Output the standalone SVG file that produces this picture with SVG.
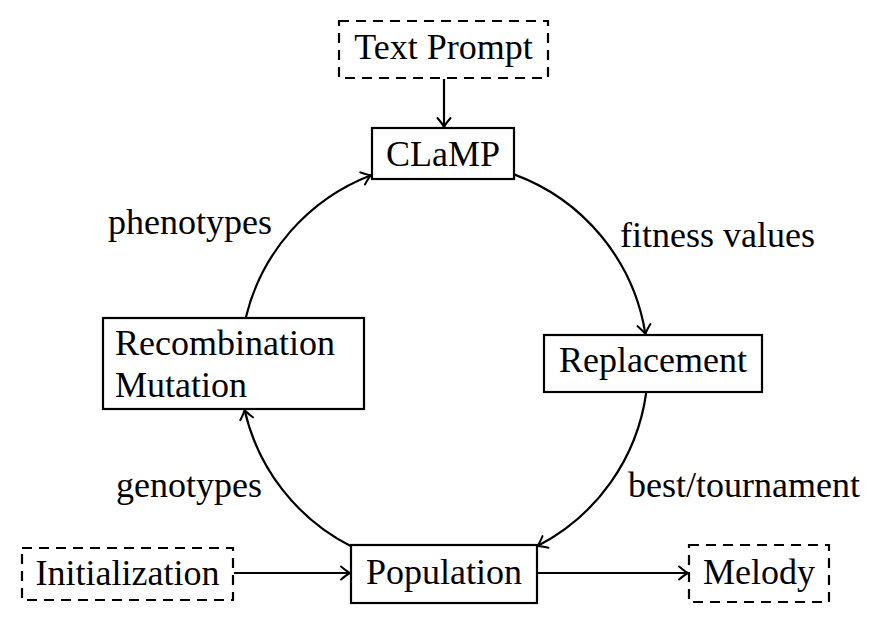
<svg xmlns="http://www.w3.org/2000/svg" width="877" height="618" viewBox="0 0 877 618">
<style>
  .box { fill: #ffffff; stroke: #000000; stroke-width: 2.2; }
  .dbox { fill: #ffffff; stroke: #000000; stroke-width: 2.2; stroke-dasharray: 10 7; }
  .lbl { font-family: "Liberation Serif", "Times New Roman", serif; font-size: 36px; fill: #000000; }
  .mid { text-anchor: middle; }
  .edge { fill: none; stroke: #000000; stroke-width: 2.2; marker-end: url(#arr); }
</style>
<defs>
  <marker id="arr" markerUnits="userSpaceOnUse" viewBox="-12 -8 14 16" refX="0" refY="0" markerWidth="14" markerHeight="16" orient="auto" overflow="visible">
    <path d="M -9,-6.5 Q -3,-1.5 0,0 Q -3,1.5 -9,6.5" fill="none" stroke="#000000" stroke-width="2" stroke-linecap="round"/>
  </marker>
</defs>
<rect width="877" height="618" fill="#ffffff"/>
<g id="connectors">
  <line class="edge" x1="444" y1="79" x2="444" y2="127"/>
  <path class="edge" d="M 245.7,318 A 204 204 0 0 1 371,175.2"/>
  <path class="edge" d="M 514,174.4 A 204 204 0 0 1 645.4,334"/>
  <path class="edge" d="M 646.3,392 A 204 204 0 0 1 537.5,546"/>
  <path class="edge" d="M 351.5,546.5 A 204 204 0 0 1 244.6,410"/>
  <line class="edge" x1="234" y1="573" x2="350" y2="573"/>
  <line class="edge" x1="537" y1="573" x2="688" y2="573"/>
  <text class="lbl" x="108" y="234">phenotypes</text>
  <text class="lbl" x="620" y="247">fitness values</text>
  <text class="lbl" x="116" y="497">genotypes</text>
  <text class="lbl" x="628" y="497">best/tournament</text>
</g>
<g id="text-prompt">
  <rect class="dbox" x="339" y="21" width="209" height="57"/>
  <text class="lbl mid" x="443.5" y="59">Text Prompt</text>
</g>
<g id="clamp">
  <rect class="box" x="372" y="128" width="142" height="51"/>
  <text class="lbl mid" x="443" y="166">CLaMP</text>
</g>
<g id="recombination">
  <rect class="box" x="103" y="318" width="261" height="91"/>
  <text class="lbl" x="115" y="355">Recombination</text>
  <text class="lbl" x="115" y="397">Mutation</text>
</g>
<g id="replacement">
  <rect class="box" x="544" y="335" width="218" height="57"/>
  <text class="lbl mid" x="653" y="372">Replacement</text>
</g>
<g id="population">
  <rect class="box" x="351" y="545" width="186" height="58"/>
  <text class="lbl mid" x="444" y="584">Population</text>
</g>
<g id="initialization">
  <rect class="dbox" x="22" y="548" width="211" height="52"/>
  <text class="lbl mid" x="127.5" y="585">Initialization</text>
</g>
<g id="melody">
  <rect class="dbox" x="689" y="545" width="140" height="57"/>
  <text class="lbl mid" x="759" y="584">Melody</text>
</g>
</svg>
